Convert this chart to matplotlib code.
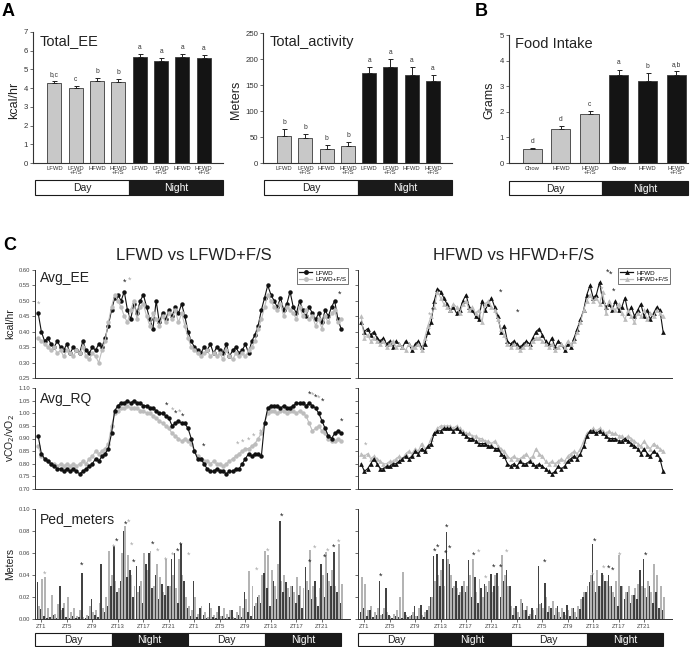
import numpy as np
import matplotlib
matplotlib.use('Agg')
import matplotlib.pyplot as plt
from matplotlib.patches import Rectangle
from matplotlib.lines import Line2D

plt.rcParams['font.family'] = ['Liberation Sans', 'DejaVu Sans']

W, H = 697, 647
fig = plt.figure(figsize=(W / 100, H / 100), dpi=100)

# ---------------- data: panels A and B ----------------
groups_ab = ['LFWD', 'LFWD\n+F/S', 'HFWD', 'HFWD\n+F/S', 'LFWD', 'LFWD\n+F/S', 'HFWD', 'HFWD\n+F/S']
total_ee = [4.25, 4.02, 4.40, 4.35, 5.65, 5.47, 5.67, 5.62]
total_ee_err = [0.12, 0.10, 0.15, 0.15, 0.15, 0.15, 0.13, 0.15]
total_ee_letters = ['b,c', 'c', 'b', 'b', 'a', 'a', 'a', 'a']
total_act = [52, 48, 27, 33, 173, 185, 170, 158]
total_act_err = [13, 8, 8, 7, 11, 15, 14, 11]
total_act_letters = ['b', 'b', 'b', 'b', 'a', 'a', 'a', 'a']
food_groups = ['Chow', 'HFWD', 'HFWD\n+F/S', 'Chow', 'HFWD', 'HFWD\n+F/S']
food = [0.53, 1.33, 1.90, 3.45, 3.22, 3.43]
food_err = [0.05, 0.10, 0.12, 0.20, 0.28, 0.15]
food_letters = ['d', 'd', 'c', 'a', 'b', 'a,b']

# ---------------- data: panel C (half-hour bins, ZT0.5 .. ZT48) ----------------
ee_lfwd = [0.46, 0.40, 0.37, 0.38, 0.36, 0.35, 0.37, 0.35,
           0.34, 0.36, 0.33, 0.35, 0.34, 0.33, 0.37, 0.34,
           0.33, 0.35, 0.34, 0.36, 0.35, 0.38, 0.42, 0.47,
           0.51, 0.52, 0.50, 0.53, 0.47, 0.44, 0.49, 0.46,
           0.50, 0.52, 0.48, 0.44, 0.41, 0.50, 0.43, 0.46,
           0.44, 0.47, 0.45, 0.48, 0.46, 0.49, 0.45, 0.40,
           0.37, 0.35, 0.34, 0.33, 0.35, 0.34, 0.36, 0.33,
           0.35, 0.34, 0.33, 0.36, 0.32, 0.34, 0.35, 0.33,
           0.34, 0.36, 0.33, 0.37, 0.39, 0.42, 0.47, 0.51,
           0.55, 0.52, 0.50, 0.48, 0.51, 0.47, 0.49, 0.53,
           0.48, 0.46, 0.50, 0.47, 0.45, 0.48, 0.46, 0.44,
           0.46, 0.43, 0.47, 0.45, 0.48, 0.50, 0.44, 0.41]
ee_lfwd_fs = [0.38, 0.37, 0.36, 0.35, 0.34, 0.35, 0.33, 0.34,
              0.32, 0.34, 0.33, 0.32, 0.34, 0.33, 0.35, 0.32,
              0.31, 0.33, 0.32, 0.30, 0.34, 0.37, 0.43, 0.48,
              0.52, 0.50, 0.48, 0.45, 0.43, 0.47, 0.50, 0.44,
              0.48, 0.49, 0.45, 0.42, 0.46, 0.44, 0.42, 0.45,
              0.43, 0.46, 0.44, 0.47, 0.43, 0.46, 0.42, 0.38,
              0.35, 0.34, 0.33, 0.32, 0.33, 0.34, 0.32, 0.33,
              0.32, 0.33, 0.31, 0.34, 0.32, 0.31, 0.33, 0.32,
              0.33, 0.32, 0.34, 0.35, 0.37, 0.41, 0.44, 0.48,
              0.52, 0.50, 0.48, 0.47, 0.49, 0.45, 0.48, 0.47,
              0.46, 0.44, 0.48, 0.45, 0.47, 0.44, 0.45, 0.42,
              0.44, 0.41, 0.45, 0.43, 0.46, 0.47, 0.43, 0.44]
ee_hfwd = [0.43, 0.40, 0.41, 0.39, 0.40, 0.38, 0.37, 0.38,
           0.36, 0.37, 0.35, 0.37, 0.36, 0.35, 0.37, 0.36,
           0.34, 0.36, 0.37, 0.35, 0.36, 0.40, 0.43, 0.50,
           0.54, 0.53, 0.51, 0.49, 0.47, 0.48, 0.46, 0.47,
           0.50, 0.52, 0.48, 0.47, 0.45, 0.44, 0.50, 0.47,
           0.49, 0.51, 0.48, 0.45, 0.40, 0.42, 0.37, 0.36,
           0.37, 0.36, 0.35, 0.36, 0.37, 0.36, 0.38, 0.40,
           0.41, 0.39, 0.37, 0.36, 0.38, 0.35, 0.37, 0.36,
           0.34, 0.36, 0.35, 0.38, 0.41, 0.44, 0.47, 0.52,
           0.55, 0.51, 0.52, 0.56, 0.50, 0.48, 0.49, 0.47,
           0.50, 0.47, 0.48, 0.51, 0.46, 0.48, 0.45, 0.47,
           0.49, 0.45, 0.47, 0.44, 0.46, 0.48, 0.47, 0.40]
ee_hfwd_fs = [0.45, 0.38, 0.39, 0.37, 0.38, 0.37, 0.36, 0.37,
              0.35, 0.36, 0.37, 0.35, 0.36, 0.35, 0.34, 0.36,
              0.35, 0.35, 0.36, 0.34, 0.38, 0.42, 0.45, 0.48,
              0.53, 0.51, 0.49, 0.48, 0.47, 0.49, 0.48, 0.46,
              0.49, 0.50, 0.47, 0.48, 0.46, 0.47, 0.43, 0.49,
              0.50, 0.48, 0.47, 0.44, 0.41, 0.39, 0.36, 0.35,
              0.36, 0.35, 0.34, 0.35, 0.36, 0.35, 0.37, 0.38,
              0.38, 0.37, 0.36, 0.35, 0.36, 0.34, 0.35, 0.36,
              0.35, 0.37, 0.36, 0.37, 0.40, 0.43, 0.47, 0.50,
              0.52, 0.50, 0.51, 0.49, 0.53, 0.46, 0.50, 0.48,
              0.47, 0.49, 0.46, 0.44, 0.47, 0.45, 0.43, 0.46,
              0.45, 0.47, 0.44, 0.46, 0.45, 0.47, 0.46, 0.45]

rq_lfwd = [0.91, 0.84, 0.82, 0.81, 0.80, 0.79, 0.78, 0.78,
           0.77, 0.78, 0.77, 0.78, 0.77, 0.76, 0.77, 0.78,
           0.79, 0.80, 0.82, 0.81, 0.83, 0.84, 0.86, 0.92,
           1.01, 1.03, 1.04, 1.04, 1.05, 1.04, 1.05, 1.04,
           1.04, 1.03, 1.03, 1.02, 1.02, 1.01, 1.00, 1.00,
           0.99, 0.98, 0.95, 0.96, 0.97, 0.96, 0.96, 0.94,
           0.90, 0.85, 0.82, 0.82, 0.80, 0.78, 0.77, 0.77,
           0.78, 0.77, 0.77, 0.76, 0.77, 0.77, 0.78, 0.78,
           0.80, 0.82, 0.84, 0.83, 0.84, 0.84, 0.83, 0.96,
           1.02, 1.03, 1.03, 1.03, 1.02, 1.03, 1.02, 1.02,
           1.03, 1.04, 1.04, 1.04, 1.03, 1.04, 1.03, 1.02,
           1.00, 0.97, 0.94, 0.91, 0.90, 0.92, 0.93, 0.92]
rq_lfwd_fs = [0.87, 0.83, 0.82, 0.81, 0.80, 0.80, 0.79, 0.80,
              0.79, 0.80, 0.79, 0.80, 0.79, 0.80, 0.81, 0.80,
              0.82, 0.83, 0.85, 0.84, 0.85, 0.86, 0.88, 0.95,
              1.00, 1.01, 1.02, 1.02, 1.03, 1.02, 1.02, 1.02,
              1.01, 1.01, 1.00, 1.00, 0.99, 0.98, 0.97, 0.96,
              0.95, 0.94, 0.92, 0.91, 0.90, 0.89, 0.90, 0.89,
              0.88, 0.85, 0.83, 0.82, 0.81, 0.81, 0.80, 0.81,
              0.80, 0.80, 0.79, 0.80, 0.81, 0.82, 0.83, 0.84,
              0.85, 0.86, 0.86, 0.87, 0.88, 0.90, 0.92, 0.96,
              1.00, 1.01, 1.01, 1.00, 1.01, 1.01, 1.00, 1.01,
              1.01, 1.00, 1.01, 1.00, 0.99, 0.96, 0.93, 0.94,
              0.95, 0.93, 0.92, 0.90, 0.89, 0.89, 0.90, 0.89]
rq_hfwd = [0.80, 0.77, 0.78, 0.80, 0.82, 0.80, 0.78, 0.78,
           0.79, 0.79, 0.80, 0.80, 0.81, 0.82, 0.83, 0.82,
           0.83, 0.85, 0.84, 0.86, 0.85, 0.87, 0.88, 0.92,
           0.93, 0.93, 0.94, 0.94, 0.94, 0.93, 0.94, 0.93,
           0.92, 0.91, 0.90, 0.90, 0.89, 0.88, 0.88, 0.88,
           0.87, 0.87, 0.86, 0.86, 0.84, 0.83, 0.80, 0.79,
           0.80, 0.79, 0.81, 0.80, 0.80, 0.81, 0.80, 0.79,
           0.80, 0.79, 0.78, 0.77, 0.76, 0.77, 0.79, 0.78,
           0.79, 0.81, 0.82, 0.83, 0.82, 0.84, 0.87, 0.91,
           0.93, 0.93, 0.92, 0.93, 0.92, 0.91, 0.90, 0.90,
           0.90, 0.89, 0.89, 0.90, 0.89, 0.88, 0.87, 0.86,
           0.84, 0.86, 0.84, 0.83, 0.85, 0.84, 0.82, 0.77]
rq_hfwd_fs = [0.84, 0.83, 0.84, 0.82, 0.83, 0.82, 0.81, 0.80,
              0.80, 0.81, 0.81, 0.82, 0.83, 0.82, 0.84, 0.85,
              0.84, 0.86, 0.85, 0.88, 0.86, 0.87, 0.90, 0.92,
              0.94, 0.95, 0.95, 0.95, 0.95, 0.94, 0.95, 0.94,
              0.93, 0.92, 0.92, 0.91, 0.91, 0.90, 0.90, 0.89,
              0.89, 0.88, 0.89, 0.87, 0.86, 0.85, 0.83, 0.82,
              0.83, 0.82, 0.82, 0.83, 0.84, 0.82, 0.83, 0.86,
              0.84, 0.83, 0.81, 0.80, 0.81, 0.80, 0.81, 0.82,
              0.81, 0.83, 0.84, 0.85, 0.84, 0.86, 0.89, 0.92,
              0.93, 0.94, 0.93, 0.94, 0.93, 0.92, 0.93, 0.92,
              0.92, 0.91, 0.91, 0.90, 0.91, 0.90, 0.89, 0.88,
              0.87, 0.89, 0.87, 0.86, 0.88, 0.87, 0.86, 0.85]

ped_lfwd = [0.034, 0.009, 0.003, 0.001, 0.002, 0.004, 0.001, 0.030,
            0.010, 0.002, 0.001, 0.003, 0.001, 0.002, 0.042, 0.001,
            0.003, 0.018, 0.004, 0.002, 0.050, 0.006, 0.012, 0.030,
            0.066, 0.025, 0.035, 0.080, 0.038, 0.045, 0.020, 0.048,
            0.030, 0.015, 0.050, 0.060, 0.028, 0.040, 0.018, 0.032,
            0.022, 0.030, 0.055, 0.060, 0.015, 0.068, 0.035, 0.010,
            0.003, 0.035, 0.002, 0.010, 0.004, 0.001, 0.015, 0.002,
            0.001, 0.012, 0.003, 0.001, 0.002, 0.008, 0.001, 0.004,
            0.002, 0.025, 0.006, 0.003, 0.012, 0.020, 0.015, 0.042,
            0.028, 0.012, 0.035, 0.018, 0.089, 0.025, 0.034, 0.020,
            0.030, 0.015, 0.022, 0.010, 0.047, 0.026, 0.018, 0.035,
            0.012, 0.050, 0.020, 0.042, 0.030, 0.061, 0.025, 0.015]
ped_lfwd_fs = [0.012, 0.036, 0.038, 0.010, 0.022, 0.005, 0.014, 0.008,
               0.015, 0.020, 0.006, 0.010, 0.003, 0.008, 0.002, 0.004,
               0.012, 0.006, 0.008, 0.015, 0.010, 0.020, 0.062, 0.040,
               0.035, 0.028, 0.060, 0.085, 0.058, 0.040, 0.030, 0.025,
               0.035, 0.060, 0.045, 0.062, 0.030, 0.050, 0.038, 0.025,
               0.055, 0.030, 0.040, 0.028, 0.055, 0.040, 0.020, 0.012,
               0.008, 0.020, 0.005, 0.012, 0.006, 0.002, 0.010, 0.004,
               0.006, 0.003, 0.010, 0.005, 0.008, 0.002, 0.006, 0.012,
               0.010, 0.018, 0.044, 0.030, 0.015, 0.022, 0.040, 0.062,
               0.058, 0.045, 0.030, 0.050, 0.035, 0.040, 0.028, 0.030,
               0.025, 0.038, 0.030, 0.028, 0.035, 0.063, 0.030, 0.020,
               0.028, 0.040, 0.061, 0.035, 0.045, 0.030, 0.068, 0.032]
ped_hfwd = [0.006, 0.010, 0.003, 0.008, 0.002, 0.004, 0.035, 0.005,
            0.028, 0.004, 0.001, 0.003, 0.002, 0.001, 0.006, 0.002,
            0.004, 0.012, 0.003, 0.013, 0.002, 0.008, 0.020, 0.057,
            0.059, 0.030, 0.055, 0.079, 0.050, 0.028, 0.035, 0.022,
            0.030, 0.025, 0.054, 0.020, 0.038, 0.015, 0.028, 0.032,
            0.025, 0.041, 0.030, 0.042, 0.020, 0.035, 0.045, 0.030,
            0.004, 0.012, 0.002, 0.015, 0.008, 0.003, 0.010, 0.004,
            0.048, 0.015, 0.033, 0.006, 0.010, 0.004, 0.012, 0.002,
            0.006, 0.013, 0.003, 0.010, 0.002, 0.009, 0.020, 0.025,
            0.034, 0.068, 0.025, 0.030, 0.042, 0.035, 0.040, 0.030,
            0.020, 0.012, 0.030, 0.018, 0.025, 0.015, 0.022, 0.018,
            0.045, 0.055, 0.020, 0.030, 0.015, 0.025, 0.010, 0.008]
ped_hfwd_fs = [0.038, 0.032, 0.008, 0.012, 0.006, 0.010, 0.004, 0.010,
               0.006, 0.003, 0.005, 0.008, 0.020, 0.043, 0.004, 0.003,
               0.006, 0.003, 0.010, 0.004, 0.006, 0.012, 0.020, 0.035,
               0.040, 0.045, 0.030, 0.055, 0.040, 0.030, 0.028, 0.025,
               0.035, 0.030, 0.040, 0.055, 0.025, 0.036, 0.020, 0.030,
               0.035, 0.025, 0.040, 0.030, 0.058, 0.040, 0.030, 0.012,
               0.010, 0.006, 0.018, 0.008, 0.012, 0.005, 0.008, 0.010,
               0.014, 0.010, 0.020, 0.012, 0.016, 0.010, 0.006, 0.010,
               0.004, 0.008, 0.010, 0.006, 0.012, 0.018, 0.025, 0.030,
               0.040, 0.035, 0.045, 0.030, 0.040, 0.035, 0.030, 0.025,
               0.035, 0.058, 0.030, 0.025, 0.030, 0.022, 0.028, 0.032,
               0.030, 0.028, 0.035, 0.025, 0.050, 0.040, 0.030, 0.020]

# significance asterisks: (ZT hour, value, 'k' dark / 'g' grey)
ee_l_star_h = [0.5, 14.1, 14.8, 47.8]
ee_l_star_v = [0.49, 0.559, 0.566, 0.52]
ee_l_star_c = ['g', 'k', 'g', 'k']
ee_r_star_h = [11.3, 11.8, 22.5, 25.1, 38.4, 39.2, 39.7, 40.2]
ee_r_star_v = [0.455, 0.47, 0.529, 0.464, 0.537, 0.594, 0.585, 0.53]
ee_r_star_c = ['g', 'k', 'k', 'k', 'g', 'k', 'k', 'k']
rq_l_star_h = [20.7, 21.6, 22.1, 22.6, 23.1, 26.4, 31.7, 32.5, 33.5, 34.3, 35.4,
               43.0, 43.5, 44.0, 44.5, 45.1, 48.1]
rq_l_star_v = [1.03, 1.01, 1.00, 1.005, 0.99, 0.87, 0.876, 0.885, 0.895, 0.91, 0.925,
               1.075, 1.07, 1.065, 1.06, 1.047, 0.97]
rq_l_star_c = ['k', 'g', 'k', 'g', 'k', 'k', 'g', 'g', 'g', 'g', 'g',
               'k', 'g', 'k', 'g', 'k', 'k']
rq_r_star_h = [1.25]
rq_r_star_v = [0.875]
rq_r_star_c = ['g']
ped_l_star_h = [1.57, 7.3, 12.3, 12.8, 14.2, 14.7, 15.1, 15.4, 18.5, 19.3, 20.5, 21.6,
                22.4, 22.8, 24.1, 34.8, 36.4, 38.7, 43.1, 43.9, 45.4, 45.9, 46.9, 47.6]
ped_l_star_v = [0.041, 0.049, 0.065, 0.071, 0.086, 0.088, 0.067, 0.052, 0.068, 0.062, 0.053, 0.058,
                0.062, 0.067, 0.058, 0.044, 0.062, 0.093, 0.052, 0.064, 0.056, 0.062, 0.065, 0.070]
ped_l_star_c = ['g', 'k', 'g', 'k', 'k', 'g', 'g', 'k', 'k', 'g', 'g', 'g',
                'k', 'k', 'g', 'g', 'g', 'k', 'k', 'g', 'k', 'g', 'k', 'g']
ped_r_star_h = [3.56, 12.1, 12.6, 13.8, 14.0, 14.4, 18.2, 18.9, 20.0, 21.3, 22.4, 23.4,
                29.3, 36.9, 37.2, 38.7, 39.4, 40.0, 41.2, 45.2]
ped_r_star_v = [0.0385, 0.062, 0.065, 0.060, 0.083, 0.064, 0.058, 0.061, 0.037, 0.047, 0.047, 0.061,
                0.052, 0.040, 0.071, 0.046, 0.046, 0.044, 0.058, 0.058]
ped_r_star_c = ['k', 'k', 'k', 'k', 'k', 'k', 'k', 'g', 'g', 'k', 'k', 'g',
                'k', 'g', 'k', 'g', 'k', 'k', 'g', 'k']

zt_ticks = [1, 5, 9, 13, 17, 21, 25, 29, 33, 37, 41, 45]
zt_labels = ['ZT1', 'ZT5', 'ZT9', 'ZT13', 'ZT17', 'ZT21'] * 2

DARK = '#111111'
LIGHT = '#bdbdbd'
STAR_COL = {'k': '#222222', 'g': '#a8a8a8'}


def px_axes(l, t, r, b):
    return fig.add_axes([l / W, 1 - b / H, (r - l) / W, (b - t) / H])


def style_axes(ax, lw=0.7):
    for s in ['top', 'right']:
        ax.spines[s].set_visible(False)
    for s in ['left', 'bottom']:
        ax.spines[s].set_linewidth(lw)
        ax.spines[s].set_color('#333333')
    ax.tick_params(direction='out', length=2, width=0.5, colors='#333333', pad=1.5)


def daynight(l, t, r, b, segments, fs=7.5):
    ax = px_axes(l, t, r, b)
    ax.set_xlim(0, 1)
    ax.set_ylim(0, 1)
    ax.axis('off')
    for (x0, x1, lab) in segments:
        night = lab == 'Night'
        ax.add_patch(Rectangle((x0, 0), x1 - x0, 1, facecolor='#1a1a1a' if night else 'white',
                               edgecolor='#1a1a1a', linewidth=0.8, clip_on=False))
        ax.text((x0 + x1) / 2, 0.45, lab, ha='center', va='center', fontsize=fs,
                color='white' if night else '#222222')


def bar_panel(rect, labels, vals, errs, letters, n_day, ylim, yticks, title, xlim):
    ax = px_axes(*rect)
    x = np.arange(len(vals))
    colors = ['#c8c8c8'] * n_day + ['#141414'] * (len(vals) - n_day)
    ax.bar(x, vals, width=0.66, color=colors, edgecolor='#3a3a3a', linewidth=0.6,
           yerr=[np.zeros(len(vals)), errs],
           error_kw=dict(ecolor='#222222', elinewidth=0.7, capsize=1.8, capthick=0.7))
    for xi, v, e, l in zip(x, vals, errs, letters):
        ax.text(xi, v + e + ylim[1] * 0.025, l, ha='center', va='bottom', fontsize=4.8, color='#333333')
    ax.set_xlim(*xlim)
    ax.set_ylim(*ylim)
    ax.set_yticks(yticks)
    ax.set_xticks(x)
    ax.set_xticklabels(labels, fontsize=4.2, linespacing=0.9)
    style_axes(ax, lw=0.8)
    ax.tick_params(axis='y', labelsize=5.6)
    ax.tick_params(axis='x', length=0, pad=2)
    ax.text(0.035, 0.985, title, transform=ax.transAxes, ha='left', va='top', fontsize=10.5, color='#222222')
    return ax


# ---------------- Panel A / B ----------------
fig.text(2 / W, 1 - 12 / H, 'A', fontsize=13, fontweight='bold', va='center', ha='left')
fig.text(475 / W, 1 - 12 / H, 'B', fontsize=13, fontweight='bold', va='center', ha='left')

bar_panel((33, 32, 223, 163), groups_ab, total_ee, total_ee_err, total_ee_letters, 4,
          (0, 7), range(0, 8), 'Total_EE', (-1.0, 7.9))
fig.text(14 / W, 1 - 100 / H, 'kcal/hr', rotation=90, fontsize=9, ha='center', va='center', color='#222222')
daynight(35, 180, 223, 195, [(0, 0.5, 'Day'), (0.5, 1, 'Night')])

bar_panel((263, 33, 452, 163), groups_ab, total_act, total_act_err, total_act_letters, 4,
          (0, 250), range(0, 251, 50), 'Total_activity', (-1.0, 7.9))
fig.text(236 / W, 1 - 100 / H, 'Meters', rotation=90, fontsize=9, ha='center', va='center', color='#222222')
daynight(264, 180, 452, 195, [(0, 0.5, 'Day'), (0.5, 1, 'Night')])

bar_panel((509, 35, 688, 163), food_groups, food, food_err, food_letters, 3,
          (0, 5), range(0, 6), 'Food Intake', (-0.8, 5.4))
fig.text(489 / W, 1 - 100 / H, 'Grams', rotation=90, fontsize=9, ha='center', va='center', color='#222222')
daynight(509, 181, 688, 195, [(0, 0.52, 'Day'), (0.52, 1, 'Night')])

# ---------------- Panel C ----------------
fig.text(3 / W, 1 - 246 / H, 'C', fontsize=13, fontweight='bold', va='center', ha='left')
fig.text(194 / W, 1 - 255 / H, 'LFWD vs LFWD+F/S', fontsize=12, ha='center', va='center', color='#222222')
fig.text(514 / W, 1 - 255 / H, 'HFWD vs HFWD+F/S', fontsize=12, ha='center', va='center', color='#222222')

XLIM = (0, 49.4)


def stars(ax, hs, vs, cs):
    for h, v, c in zip(hs, vs, cs):
        ax.text(h, v, '*', ha='center', va='center', fontsize=6.5, color=STAR_COL[c])


def ts_panel(rect, dark, light, marker, ylim, yticks, show_labels, black_first, sh, sv, sc):
    ax = px_axes(*rect)
    hrs_d = 0.5 * (np.arange(len(dark)) + 1)
    hrs_l = 0.5 * (np.arange(len(light)) + 1)
    ms = 3.2 if marker == 'o' else 3.4
    order = [(hrs_d, dark, DARK), (hrs_l, light, LIGHT)]
    if not black_first:
        order = order[::-1]
    for hh, vv, col in order:
        ax.plot(hh, vv, color=col, marker=marker, markersize=ms, linewidth=0.8,
                markeredgewidth=0, clip_on=False)
    stars(ax, sh, sv, sc)
    ax.set_xlim(*XLIM)
    ax.set_ylim(*ylim)
    ax.set_yticks(yticks)
    style_axes(ax)
    ax.set_xticks([])
    if show_labels:
        ax.set_yticklabels(['%.2f' % t for t in yticks], fontsize=4.2, color='#444444')
    else:
        ax.set_yticklabels([])
    return ax


ee_ticks = [0.25, 0.30, 0.35, 0.40, 0.45, 0.50, 0.55, 0.60]
rq_ticks = [0.70, 0.75, 0.80, 0.85, 0.90, 0.95, 1.00, 1.05, 1.10]
ped_ticks = [0.00, 0.02, 0.04, 0.06, 0.08, 0.10]

axL_ee = ts_panel((35, 270, 350, 378), ee_lfwd, ee_lfwd_fs, 'o', (0.25, 0.60), ee_ticks, True, True,
                  ee_l_star_h, ee_l_star_v, ee_l_star_c)
axR_ee = ts_panel((358, 270, 672, 378), ee_hfwd, ee_hfwd_fs, '^', (0.25, 0.60), ee_ticks, False, True,
                  ee_r_star_h, ee_r_star_v, ee_r_star_c)
axL_rq = ts_panel((35, 388, 350, 489), rq_lfwd, rq_lfwd_fs, 'o', (0.70, 1.10), rq_ticks, True, False,
                  rq_l_star_h, rq_l_star_v, rq_l_star_c)
axR_rq = ts_panel((358, 388, 672, 489), rq_hfwd, rq_hfwd_fs, '^', (0.70, 1.10), rq_ticks, False, False,
                  rq_r_star_h, rq_r_star_v, rq_r_star_c)

for ax, t, ty in [(axL_ee, 'Avg_EE', 0.99), (axL_rq, 'Avg_RQ', 0.96)]:
    ax.text(0.016, ty, t, transform=ax.transAxes, ha='left', va='top', fontsize=10, color='#222222')

# legends
for ax, mk, names in [(axL_ee, 'o', ['LFWD', 'LFWD+F/S']), (axR_ee, '^', ['HFWD', 'HFWD+F/S'])]:
    handles = [Line2D([], [], color=DARK, marker=mk, markersize=3.5, linewidth=0.9, markeredgewidth=0),
               Line2D([], [], color=LIGHT, marker=mk, markersize=3.5, linewidth=0.9, markeredgewidth=0)]
    leg = ax.legend(handles, names, loc='upper right', bbox_to_anchor=(1.005, 1.045), fontsize=4.5,
                    frameon=True, fancybox=False, edgecolor='#333333', borderpad=0.3,
                    handlelength=2.2, handletextpad=0.5, labelspacing=0.2)
    leg.get_frame().set_linewidth(0.6)


def ped_panel(rect, dark, light, show_labels, sh, sv, sc):
    ax = px_axes(*rect)
    hrs_d = 0.5 * (np.arange(len(dark)) + 1)
    hrs_l = 0.5 * (np.arange(len(light)) + 1)
    ax.bar(hrs_l + 0.11, light, width=0.3, color='#b4b4b4', linewidth=0)
    ax.bar(hrs_d - 0.11, dark, width=0.24, color='#2e2e2e', linewidth=0, alpha=0.9)
    stars(ax, sh, sv, sc)
    ax.set_xlim(*XLIM)
    ax.set_ylim(0, 0.10)
    ax.set_yticks(ped_ticks)
    style_axes(ax)
    ax.set_xticks(zt_ticks)
    ax.set_xticklabels(zt_labels, fontsize=4.2, color='#444444')
    if show_labels:
        ax.set_yticklabels(['%.2f' % t for t in ped_ticks], fontsize=4.2, color='#444444')
    else:
        ax.set_yticklabels([])
    return ax


axL_ped = ped_panel((35, 509, 350, 619), ped_lfwd, ped_lfwd_fs, True, ped_l_star_h, ped_l_star_v, ped_l_star_c)
axR_ped = ped_panel((358, 509, 672, 619), ped_hfwd, ped_hfwd_fs, False, ped_r_star_h, ped_r_star_v, ped_r_star_c)
axL_ped.text(0.016, 0.975, 'Ped_meters', transform=axL_ped.transAxes, ha='left', va='top',
             fontsize=10, color='#222222')

fig.text(10 / W, 1 - 324 / H, 'kcal/hr', rotation=90, fontsize=7.5, ha='center', va='center', color='#222222')
fig.text(10 / W, 1 - 438 / H, 'vCO$_2$/vO$_2$', rotation=90, fontsize=7.5, ha='center', va='center', color='#222222')
fig.text(10 / W, 1 - 564 / H, 'Meters', rotation=90, fontsize=7.5, ha='center', va='center', color='#222222')

quarters = [(0, 0.25, 'Day'), (0.25, 0.5, 'Night'), (0.5, 0.75, 'Day'), (0.75, 1.0, 'Night')]
daynight(35, 633, 341, 646, quarters, fs=7.5)
daynight(358, 633, 663, 646, quarters, fs=7.5)

fig.savefig('out.png', dpi=100)
